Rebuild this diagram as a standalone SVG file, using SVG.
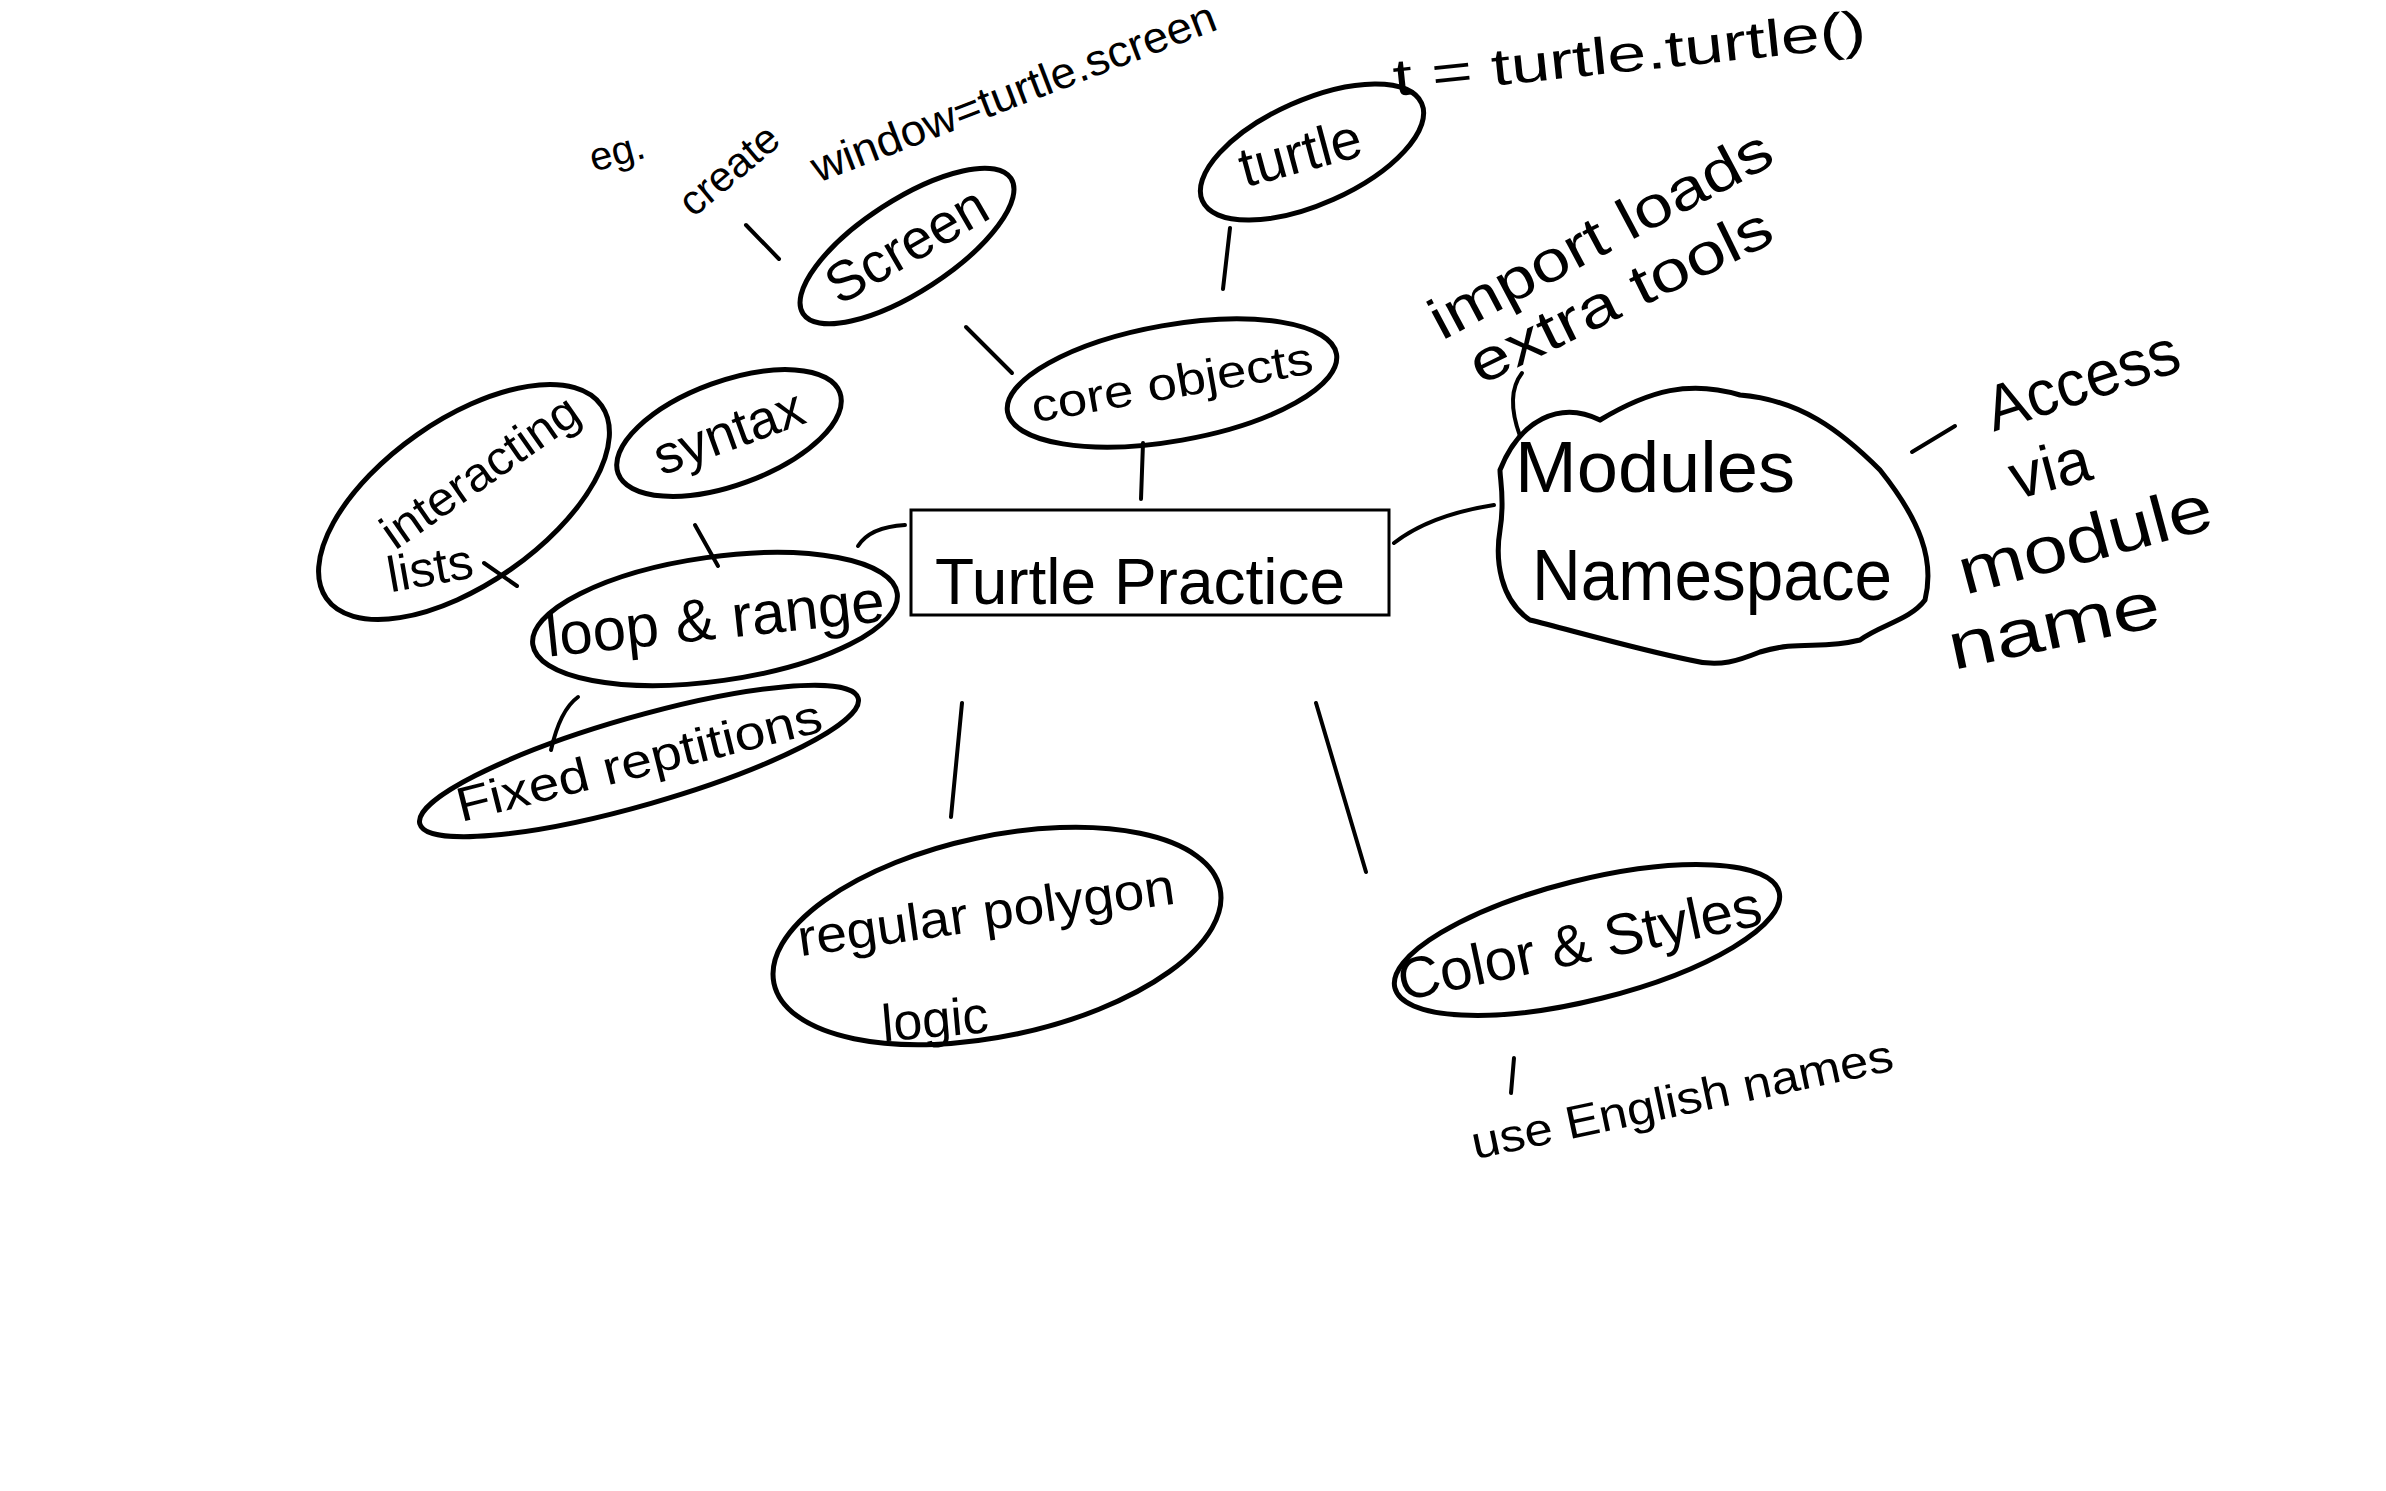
<svg xmlns="http://www.w3.org/2000/svg" width="2386" height="1491" viewBox="0 0 2386 1491">
<style>
.n{fill:none;stroke:#000;stroke-width:5;stroke-linecap:round}
.c{fill:none;stroke:#000;stroke-width:4;stroke-linecap:round}
.t{font-family:"Liberation Sans",Arial,sans-serif;fill:#000;text-anchor:middle}
.s{font-family:"Liberation Sans",Arial,sans-serif;fill:#000}
</style>
<rect width="2386" height="1491" fill="#fff"/>
<g id="connectors">
<path class="c" d="M746,225 L779,259"/>
<path class="c" d="M1230,228 L1223,289"/>
<path class="c" d="M966,327 L1012,373"/>
<path class="c" d="M1143,443 L1141,499"/>
<path class="c" d="M1522,373 Q1505,395 1520,436"/>
<path class="c" d="M1394,543 Q1430,515 1494,505"/>
<path class="c" d="M1912,452 L1955,426"/>
<path class="c" d="M695,525 L718,566"/>
<path class="c" d="M484,563 L517,586"/>
<path class="c" d="M858,546 Q870,527 905,525"/>
<path class="c" d="M578,697 Q560,710 551,750"/>
<path class="c" d="M962,703 L951,817"/>
<path class="c" d="M1316,703 L1366,872"/>
<path class="c" d="M1514,1058 L1511,1093"/>
</g>
<g id="turtle-practice">
<rect x="911" y="510" width="478" height="105" fill="none" stroke="#000" stroke-width="3"/>
<text class="t" x="1140" y="604" font-size="64" textLength="410" lengthAdjust="spacingAndGlyphs">Turtle Practice</text>
</g>
<g id="core-objects">
<ellipse class="n" cx="1172" cy="383" rx="167" ry="58" transform="rotate(-10 1172 383)"/>
<text class="t" x="1172" y="398" font-size="46" transform="rotate(-10 1172 383)" textLength="285" lengthAdjust="spacingAndGlyphs">core objects</text>
</g>
<g id="screen">
<ellipse class="n" cx="907" cy="246" rx="124" ry="46" transform="rotate(-33 907 246)"/>
<text class="t" x="907" y="264" font-size="56" transform="rotate(-30 907 246)">Screen</text>
</g>
<g id="turtle">
<ellipse class="n" cx="1312" cy="152" rx="120" ry="52" transform="rotate(-24 1312 152)"/>
<text class="t" x="1300" y="172" font-size="56" transform="rotate(-15 1300 152)">turtle</text>
</g>
<g id="modules-namespace">
<path class="n" d="M1500,470 C1520,420 1560,400 1600,420 C1650,390 1690,380 1740,395 C1800,400 1840,430 1880,470 C1920,520 1935,560 1925,600 C1910,620 1880,625 1860,640 C1820,650 1800,640 1760,652 C1740,660 1720,668 1690,660 C1640,650 1570,630 1530,620 C1500,600 1495,560 1500,530 C1505,500 1500,480 1500,470 Z"/>
<text class="t" x="1655" y="492" font-size="72" textLength="280" lengthAdjust="spacingAndGlyphs">Modules</text>
<text class="t" x="1712" y="600" font-size="72" textLength="360" lengthAdjust="spacingAndGlyphs">Namespace</text>
</g>
<g id="syntax">
<ellipse class="n" cx="729" cy="433" rx="118" ry="52" transform="rotate(-20 729 433)"/>
<text class="t" x="729" y="450" font-size="54" transform="rotate(-20 729 433)">syntax</text>
</g>
<g id="interacting-lists">
<ellipse class="n" cx="464" cy="502" rx="168" ry="82" transform="rotate(-35 464 502)"/>
<text class="t" x="480" y="488" font-size="48" transform="rotate(-35 480 472)" textLength="230" lengthAdjust="spacingAndGlyphs">interacting</text>
<text class="t" x="430" y="585" font-size="50" transform="rotate(-10 430 568)">lists</text>
</g>
<g id="loop-range">
<ellipse class="n" cx="715" cy="619" rx="184" ry="62" transform="rotate(-8 715 619)"/>
<text class="t" x="715" y="639" font-size="60" transform="rotate(-6 715 619)" textLength="340" lengthAdjust="spacingAndGlyphs">loop &amp; range</text>
</g>
<g id="fixed-reptitions">
<ellipse class="n" cx="639" cy="761" rx="228" ry="44" transform="rotate(-16 639 761)"/>
<text class="t" x="639" y="777" font-size="48" transform="rotate(-14 639 761)" textLength="375" lengthAdjust="spacingAndGlyphs">Fixed reptitions</text>
</g>
<g id="regular-polygon-logic">
<ellipse class="n" cx="997" cy="936" rx="228" ry="100" transform="rotate(-12 997 936)"/>
<text class="t" x="986" y="930" font-size="52" transform="rotate(-8 986 913)" textLength="380" lengthAdjust="spacingAndGlyphs">regular polygon</text>
<text class="t" x="935" y="1037" font-size="52" transform="rotate(-5 935 1020)">logic</text>
</g>
<g id="color-styles">
<ellipse class="n" cx="1587" cy="940" rx="198" ry="60" transform="rotate(-14 1587 940)"/>
<text class="t" x="1580" y="963" font-size="58" transform="rotate(-12 1580 946)" textLength="370" lengthAdjust="spacingAndGlyphs">Color &amp; Styles</text>
</g>
<g id="notes">
<text class="t" x="617" y="165" font-size="40" transform="rotate(-15 617 152)">eg.</text>
<text class="t" x="729" y="184" font-size="42" transform="rotate(-40 729 170)">create</text>
<text class="s" x="818" y="183" font-size="44" transform="rotate(-21 818 183)" textLength="430" lengthAdjust="spacingAndGlyphs">window=turtle.screen</text>
<text class="s" x="1395" y="96" font-size="52" transform="rotate(-6 1395 96)" textLength="475" lengthAdjust="spacingAndGlyphs">t = turtle.turtle()</text>
<text class="t" x="1601" y="254" font-size="58" transform="rotate(-28 1601 236)" textLength="380" lengthAdjust="spacingAndGlyphs">import loads</text>
<text class="t" x="1621" y="315" font-size="58" transform="rotate(-26 1621 297)" textLength="330" lengthAdjust="spacingAndGlyphs">extra tools</text>
<text class="t" x="2082" y="402" font-size="64" transform="rotate(-18 2082 380)" textLength="200" lengthAdjust="spacingAndGlyphs">Access</text>
<text class="t" x="2050" y="490" font-size="64" transform="rotate(-15 2050 469)">via</text>
<text class="t" x="2085" y="562" font-size="66" transform="rotate(-15 2085 540)" textLength="260" lengthAdjust="spacingAndGlyphs">module</text>
<text class="t" x="2054" y="648" font-size="66" transform="rotate(-12 2054 627)" textLength="215" lengthAdjust="spacingAndGlyphs">name</text>
<text class="t" x="1682" y="1115" font-size="46" transform="rotate(-12 1682 1099)" textLength="430" lengthAdjust="spacingAndGlyphs">use English names</text>
</g>
</svg>
